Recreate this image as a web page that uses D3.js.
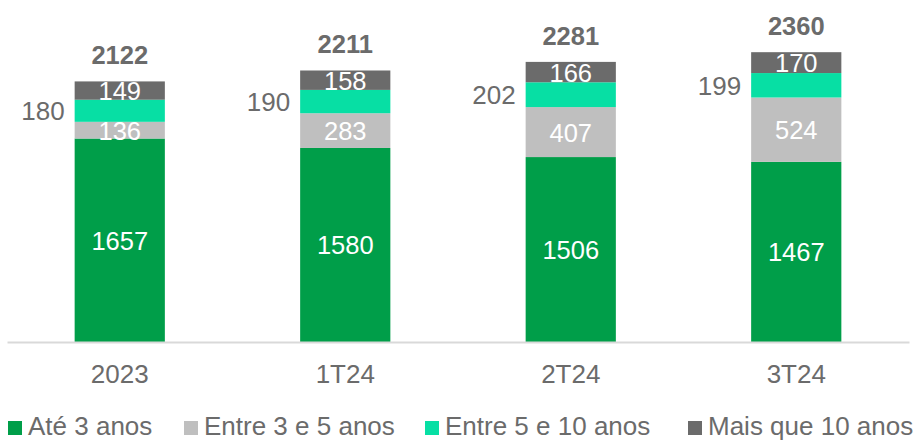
<!DOCTYPE html>
<html>
<head>
<meta charset="utf-8">
<script src="https://cdn.jsdelivr.net/npm/d3@7/dist/d3.min.js"></script>
<style>
  body { margin: 0; background: #fff; }
  svg { display: block; font-family: "Liberation Sans", Arial, sans-serif; }
</style>
</head>
<body>
<svg id="chart" width="918" height="441"></svg>
<script>
// data
var periods = ["2023", "1T24", "2T24", "3T24"];
var seriesNames = ["Até 3 anos", "Entre 3 e 5 anos", "Entre 5 e 10 anos", "Mais que 10 anos"];
var ate3 = [1657, 1580, 1506, 1467];
var entre3e5 = [136, 283, 407, 524];
var entre5e10 = [180, 190, 202, 199];
var mais10 = [149, 158, 166, 170];
var totals = [2122, 2211, 2281, 2360];

var colors = ["#009E49", "#BFBFBF", "#07DFA4", "#6B6B6B"];
var textGray = "#6B6B6B";

let chart = d3.select("#chart");
var baseY = 342;

var rows = periods.map(function(p, i) {
    return { period: p, s0: ate3[i], s1: entre3e5[i], s2: entre5e10[i], s3: mais10[i], total: totals[i] };
});
var keys = ["s0", "s1", "s2", "s3"];
var stacked = d3.stack().keys(keys)(rows);

var xScale = d3.scaleBand()
    .domain(periods)
    .range([7, 909])
    .paddingInner(0.6)
    .paddingOuter(0.3);

var yScale = d3.scaleLinear()
    .domain([0, 2785])
    .range([baseY, 0]);

// bars
var layers = chart.selectAll("g.layer")
    .data(stacked).enter()
    .append("g")
        .attr("class", "layer")
        .attr("fill", function(d, i) { return colors[i]; });

layers.selectAll("rect")
    .data(function(d) { return d; }).enter()
    .append("rect")
        .attr("x", function(d) { return xScale(d.data.period); })
        .attr("y", function(d) { return yScale(d[1]); })
        .attr("width", xScale.bandwidth())
        .attr("height", function(d) { return yScale(d[0]) - yScale(d[1]); });

// axis
var xAxis = chart.append("g")
    .attr("transform", "translate(0," + baseY + ")")
    .call(d3.axisBottom(xScale).tickSize(0).tickPadding(23).tickSizeOuter(0));
xAxis.select(".domain").attr("stroke", "#D9D9D9").attr("stroke-width", 2);
xAxis.selectAll("text")
    .attr("fill", textGray)
    .style("font-size", "26px")
    .style("font-family", "'Liberation Sans', Arial, sans-serif");

// value labels
stacked.forEach(function(layer, li) {
    chart.selectAll("text.lbl" + li)
        .data(layer).enter()
        .append("text")
            .attr("class", "lbl" + li)
            .text(function(d) { return d.data[keys[li]]; })
            .attr("x", function(d) {
                if (li == 2) return xScale(d.data.period) - 10;
                return xScale(d.data.period) + xScale.bandwidth() / 2;
            })
            .attr("y", function(d) { return (yScale(d[0]) + yScale(d[1])) / 2 + 9.5; })
            .style("text-anchor", li == 2 ? "end" : "middle")
            .style("font-size", li == 2 ? "26px" : "25.5px")
            .attr("fill", li == 2 ? textGray : "#fff");
});

// totals
chart.selectAll("text.total")
    .data(rows).enter()
    .append("text")
        .attr("class", "total")
        .text(function(d) { return d.total; })
        .attr("x", function(d) { return xScale(d.period) + xScale.bandwidth() / 2; })
        .attr("y", function(d) { return yScale(d.total) - 17; })
        .style("text-anchor", "middle")
        .style("font-size", "25.5px")
        .attr("font-weight", "bold")
        .attr("fill", textGray);

// legend
var legendX = [8, 184, 425, 688];
var legend = chart.selectAll("g.legend")
    .data(seriesNames).enter()
    .append("g")
        .attr("class", "legend")
        .attr("transform", function(d, i) { return "translate(" + legendX[i] + ",435)"; });

legend.append("rect")
    .attr("x", 0)
    .attr("y", -14)
    .attr("width", 14)
    .attr("height", 14)
    .attr("fill", function(d, i) { return colors[i]; });

legend.append("text")
    .text(function(d) { return d; })
    .attr("x", 20)
    .attr("y", 0)
    .style("font-size", "26px")
    .attr("fill", textGray);
</script>
</body>
</html>
